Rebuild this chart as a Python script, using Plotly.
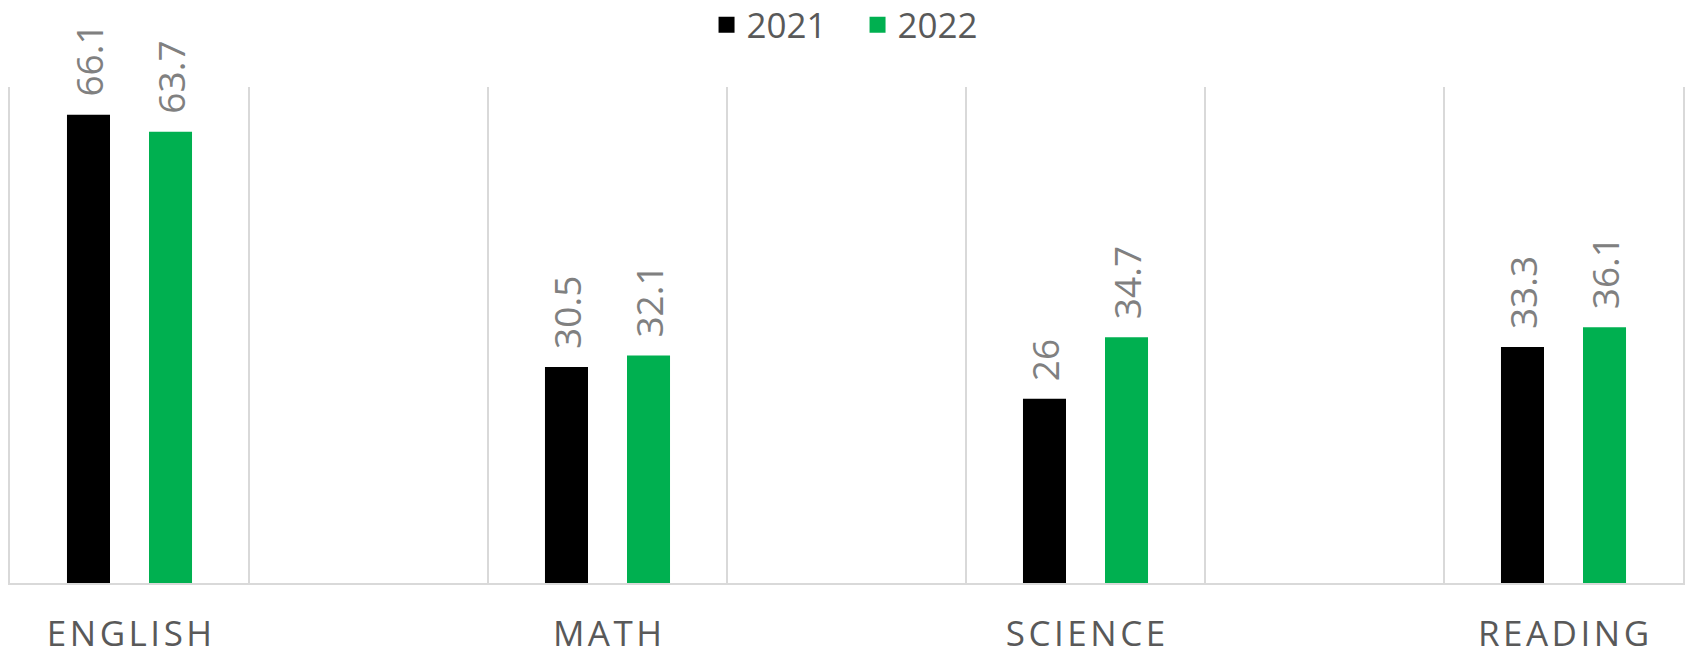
import plotly.graph_objects as go

subjects = ["ENGLISH", "MATH", "SCIENCE", "READING"]
subject_pos = [0, 2, 4, 6]
series_names = ["2021", "2022"]
values_2021 = [66.1, 30.5, 26, 33.3]
values_2022 = [63.7, 32.1, 34.7, 36.1]
value_labels_2021 = ["66.1", "30.5", "26", "33.3"]
value_labels_2022 = ["63.7", "32.1", "34.7", "36.1"]

colors = ["#000000", "#00B050"]
FONT = "Open Sans"
HS = "\u200a"

def spaced(s):
    return HS.join(list(s))

fig = go.Figure()
bar_w = 0.18
offsets = [-0.2616, 0.0816]
for name, vals, col, off in zip(series_names, [values_2021, values_2022], colors, offsets):
    fig.add_trace(go.Bar(
        x=subject_pos, y=vals, name=name, marker=dict(color=col, line=dict(width=0)),
        width=bar_w, offset=off, showlegend=False,
    ))
for name, col in zip(series_names, colors):
    fig.add_trace(go.Scatter(
        x=[None], y=[None], mode="markers", name=name,
        marker=dict(symbol="square", size=23, color=col), showlegend=True,
    ))

annotations = []
for vals, labs, off in zip([values_2021, values_2022], [value_labels_2021, value_labels_2022], offsets):
    for xp, v, lab in zip(subject_pos, vals, labs):
        annotations.append(dict(
            x=xp + off + bar_w / 2, y=v, xref="x", yref="y", text=lab, showarrow=False,
            textangle=-90, yanchor="bottom", xanchor="center", yshift=16,
            font=dict(family=FONT, size=37, color="#808080"),
        ))

fig.update_layout(
    width=1690, height=655,
    margin=dict(l=10, r=7, t=87, b=72, autoexpand=False),
    plot_bgcolor="white", paper_bgcolor="white",
    showlegend=True,
    legend=dict(orientation="h", x=0.5066, xanchor="center", y=1.125, yref="paper", yanchor="middle",
                font=dict(family=FONT, size=35, color="#595959"), itemwidth=30,
                entrywidth=106, entrywidthmode="pixels",
                traceorder="normal"),
    annotations=annotations,
    xaxis=dict(
        range=[-0.5, 6.5], tickmode="array", tickvals=subject_pos,
        ticktext=[spaced(s) for s in subjects], showgrid=False, zeroline=False,
        showline=True, linecolor="#d9d9d9", linewidth=1.5, ticks="",
        ticklabelstandoff=19, automargin=False,
        tickfont=dict(family=FONT, size=35, color="#595959"),
        minor=dict(tickmode="linear", tick0=0.5, dtick=1, showgrid=True, gridcolor="#d9d9d9", gridwidth=1.5, ticks=""),
    ),
    yaxis=dict(
        range=[0, 70], showgrid=False, zeroline=False, showticklabels=False, automargin=False,
        showline=True, mirror=True, linecolor="#d9d9d9", linewidth=1.5, ticks="",
    ),
)

fig.write_html("out.html", config={"displayModeBar": False},
               post_script="document.body.style.margin='0';document.body.style.overflow='hidden';")
